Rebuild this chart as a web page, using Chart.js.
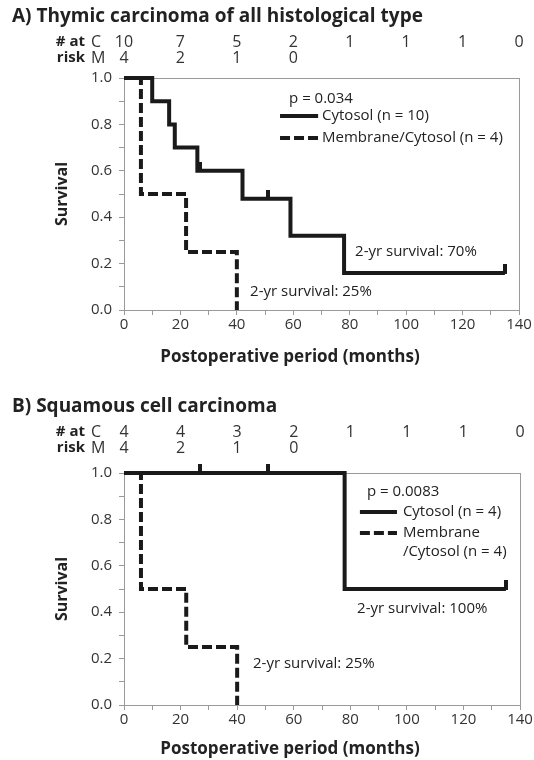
<!DOCTYPE html>
<html>
<head>
<meta charset="utf-8">
<script src="https://cdn.jsdelivr.net/npm/chart.js@4.4.1/dist/chart.umd.min.js"></script>
<style>
  html, body { margin: 0; padding: 0; background: #fff; }
  body { width: 534px; height: 760px; position: relative; overflow: hidden; }
  canvas { position: absolute; left: 0; }
  #chartA { top: 0; }
  #chartB { top: 395px; }
</style>
</head>
<body>
<canvas id="chartA" width="534" height="390"></canvas>
<canvas id="chartB" width="534" height="365"></canvas>
<script>
// Numbers at risk are given at these months
const riskTimes = [0, 20, 40, 60, 80, 100, 120, 140];

// A) Thymic carcinoma of all histological type
const aCytoTimes = [0, 10, 16, 18, 26, 42, 59, 78, 135];
const aCytoSurv = [1, 0.9, 0.8, 0.7, 0.6, 0.48, 0.32, 0.16, 0.16];
const aCytoCensor = [27, 51, 135];
const aMembTimes = [0, 6, 22, 40];
const aMembSurv = [1, 0.5, 0.25, 0];
const aRiskC = [10, 7, 5, 2, 1, 1, 1, 0];
const aRiskM = [4, 2, 1, 0];

// B) Squamous cell carcinoma
const bCytoTimes = [0, 78, 135];
const bCytoSurv = [1, 0.5, 0.5];
const bCytoCensor = [27, 51, 135];
const bMembTimes = [0, 6, 22, 40];
const bMembSurv = [1, 0.5, 0.25, 0];
const bRiskC = [4, 4, 3, 2, 1, 1, 1, 0];
const bRiskM = [4, 2, 1, 0];

const INK = '#1a1a1a';
const AXIS = '#9a9a9a';
const FONT = "'Open Sans', 'Noto Sans', sans-serif";

Chart.defaults.font.family = FONT;
Chart.defaults.color = '#333';

// censor mark: short tick standing up from the curve
const censorMark = document.createElement('canvas');
censorMark.width = 4;
censorMark.height = 18;
(function () {
    const c = censorMark.getContext('2d');
    c.fillStyle = INK;
    c.fillRect(0, 0, 4, 10);
})();

// survival value of a step curve at time t
function survivalAt(times, surv, t) {
    let s = surv[0];
    times.forEach((ti, i) => { if (ti <= t) s = surv[i]; });
    return s;
}

function toPoints(times, surv) {
    return times.map((t, i) => ({ x: t, y: surv[i] }));
}

function drawText(ctx, str, x, y, font, align, color) {
    ctx.save();
    ctx.font = font;
    ctx.textAlign = align || 'left';
    ctx.textBaseline = 'middle';
    ctx.fillStyle = color || '#222';
    ctx.fillText(str, x, y);
    ctx.restore();
}

function makeDecor(cfg) {
    return {
        id: 'kmDecor',
        beforeDatasetsDraw(chart) {
            // plot frame (top and right sides too)
            const a = chart.chartArea;
            const ctx = chart.ctx;
            ctx.save();
            ctx.strokeStyle = AXIS;
            ctx.lineWidth = 1;
            ctx.strokeRect(a.left + 0.5, a.top + 0.5, a.right - a.left, a.bottom - a.top);
            ctx.restore();
        },
        afterDraw(chart) {
            const ctx = chart.ctx;
            const xs = chart.scales.x;
            const ys = chart.scales.y;

            drawText(ctx, cfg.title, 12, cfg.titleY, "bold 19px " + FONT, 'left', '#222');
            // x axis title sits left of the plot centre in the original
            drawText(ctx, 'Postoperative period (months)', 290, cfg.xTitleY, "bold 17px " + FONT, 'center', '#222');

            // number at risk table
            const bold = "bold 15px " + FONT;
            const reg = "16px " + FONT;
            drawText(ctx, '# at', 85, cfg.riskY[0], bold, 'right');
            drawText(ctx, 'risk', 85, cfg.riskY[1], bold, 'right');
            drawText(ctx, 'C', 91, cfg.riskY[0], reg, 'left', '#333');
            drawText(ctx, 'M', 91, cfg.riskY[1], reg, 'left', '#333');
            cfg.riskC.forEach((n, i) => {
                drawText(ctx, String(n), xs.getPixelForValue(riskTimes[i]), cfg.riskY[0], reg, 'center', '#333');
            });
            cfg.riskM.forEach((n, i) => {
                drawText(ctx, String(n), xs.getPixelForValue(riskTimes[i]), cfg.riskY[1], reg, 'center', '#333');
            });

            // legend samples
            const lg = cfg.legend;
            ctx.save();
            ctx.strokeStyle = INK;
            ctx.lineWidth = 4;
            ctx.lineCap = 'butt';
            [[lg.solidY, []], [lg.dashY, [10, 4]]].forEach(([yv, dash]) => {
                const py = ys.getPixelForValue(yv);
                ctx.setLineDash(dash);
                ctx.beginPath();
                ctx.moveTo(xs.getPixelForValue(lg.from), py);
                ctx.lineTo(xs.getPixelForValue(lg.to), py);
                ctx.stroke();
            });
            ctx.restore();

            const note = "15px " + FONT;
            cfg.notes.forEach(n => {
                drawText(ctx, n.text, xs.getPixelForValue(n.x), ys.getPixelForValue(n.y), note, 'left', '#222');
            });
        }
    };
}

function drawKM(canvasId, cfg) {
    const ctx = document.getElementById(canvasId).getContext('2d');

    const censorPoints = cfg.censor.map(t => ({ x: t, y: survivalAt(cfg.cytoTimes, cfg.cytoSurv, t) }));

    return new Chart(ctx, {
        type: 'line',
        data: {
            datasets: [
                {
                    label: 'Cytosol',
                    data: toPoints(cfg.cytoTimes, cfg.cytoSurv),
                    borderColor: INK,
                    borderWidth: 4,
                    stepped: 'before',
                    pointRadius: 0,
                    fill: false,
                    clip: false
                },
                {
                    label: 'Censored',
                    data: censorPoints,
                    showLine: false,
                    pointStyle: censorMark,
                    pointRadius: 6,
                    clip: false
                },
                {
                    label: 'Membrane/Cytosol',
                    data: toPoints(cfg.membTimes, cfg.membSurv),
                    borderColor: INK,
                    borderWidth: 4,
                    borderDash: [10, 4],
                    stepped: 'before',
                    pointRadius: 0,
                    fill: false,
                    clip: false
                }
            ]
        },
        options: {
            responsive: false,
            animation: false,
            devicePixelRatio: 1,
            layout: { padding: { top: 78, left: 0, right: cfg.padRight, bottom: cfg.padBottom } },
            plugins: { legend: { display: false }, tooltip: { enabled: false } },
            scales: {
                x: {
                    type: 'linear',
                    min: 0,
                    max: 140,
                    afterFit: s => { s.height = cfg.xAxisHeight; },
                    border: { color: AXIS },
                    grid: { drawOnChartArea: false, tickLength: 5, color: AXIS },
                    ticks: {
                        stepSize: 10,
                        autoSkip: false,
                        maxRotation: 0,
                        padding: 1,
                        color: '#333',
                        font: { size: 15 },
                        callback: v => (v % 20 === 0 ? v : '')
                    }
                },
                y: {
                    min: 0,
                    max: 1,
                    afterFit: s => { s.width = 124; },
                    border: { color: AXIS },
                    grid: { drawOnChartArea: false, tickLength: 5, color: AXIS },
                    ticks: {
                        stepSize: 0.1,
                        autoSkip: false,
                        padding: 7,
                        color: '#333',
                        font: { size: 15 },
                        callback: v => (Math.round(v * 10) % 2 === 0 ? v.toFixed(1) : '')
                    },
                    title: {
                        display: true,
                        text: 'Survival',
                        color: '#222',
                        font: { size: 16, weight: 'bold', lineHeight: 1.2 },
                        padding: { top: 53, bottom: 0 }
                    }
                }
            }
        },
        plugins: [makeDecor(cfg)]
    });
}

drawKM('chartA', {
    title: 'A) Thymic carcinoma of all histological type',
    titleY: 17,
    xTitleY: 357,
    riskY: [42, 58],
    riskC: aRiskC,
    riskM: aRiskM,
    cytoTimes: aCytoTimes,
    cytoSurv: aCytoSurv,
    censor: aCytoCensor,
    membTimes: aMembTimes,
    membSurv: aMembSurv,
    padRight: 15,
    padBottom: 10,
    xAxisHeight: 70,
    legend: { from: 55.3, to: 68.8, solidY: 0.836, dashY: 0.741 },
    notes: [
        { text: 'p = 0.034', x: 58.5, y: 0.909 },
        { text: 'Cytosol (n = 10)', x: 70.2, y: 0.836 },
        { text: 'Membrane/Cytosol (n = 4)', x: 70.2, y: 0.741 },
        { text: '2-yr survival: 70%', x: 81.9, y: 0.25 },
        { text: '2-yr survival: 25%', x: 44.7, y: 0.078 }
    ]
});

drawKM('chartB', {
    title: 'B) Squamous cell carcinoma',
    titleY: 12,
    xTitleY: 354,
    riskY: [37, 53],
    riskC: bRiskC,
    riskM: bRiskM,
    cytoTimes: bCytoTimes,
    cytoSurv: bCytoSurv,
    censor: bCytoCensor,
    membTimes: bMembTimes,
    membSurv: bMembSurv,
    padRight: 14,
    padBottom: 0,
    xAxisHeight: 55,
    legend: { from: 83.4, to: 96.5, solidY: 0.832, dashY: 0.741 },
    notes: [
        { text: 'p = 0.0083', x: 85.9, y: 0.918 },
        { text: 'Cytosol (n = 4)', x: 98.6, y: 0.832 },
        { text: 'Membrane', x: 98.6, y: 0.741 },
        { text: '/Cytosol (n = 4)', x: 98.6, y: 0.659 },
        { text: '2-yr survival: 100%', x: 82.4, y: 0.414 },
        { text: '2-yr survival: 25%', x: 45.6, y: 0.177 }
    ]
});
</script>
</body>
</html>
